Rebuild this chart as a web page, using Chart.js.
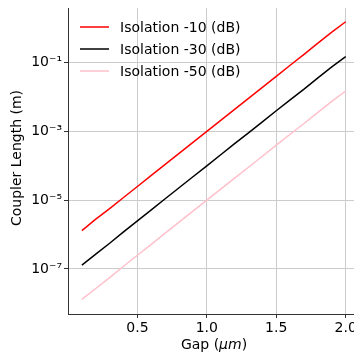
<!DOCTYPE html>
<html>
<head>
<meta charset="utf-8">
<script src="https://cdn.jsdelivr.net/npm/chart.js@4/dist/chart.umd.min.js"></script>
<style>
  html, body { margin: 0; padding: 0; background: #fff; overflow: hidden; }
</style>
</head>
<body>
<canvas id="chart" width="354" height="357"></canvas>
<script>
// gap values (um)
const gaps = [0.1, 0.2, 0.3, 0.4, 0.5, 0.6, 0.7, 0.8, 0.9, 1.0,
              1.1, 1.2, 1.3, 1.4, 1.5, 1.6, 1.7, 1.8, 1.9, 2.0];

// coupler length (m) per isolation level
const iso10 = [1.3e-6, 2.8e-6, 5.7e-6, 1.2e-5, 2.5e-5, 5.3e-5, 1.1e-4, 2.3e-4, 4.8e-4, 1.0e-3,
               2.1e-3, 4.4e-3, 9.2e-3, 1.9e-2, 4.0e-2, 8.4e-2, 0.175, 0.37, 0.77, 1.55];
const iso30 = [1.3e-7, 2.7e-7, 5.6e-7, 1.2e-6, 2.5e-6, 5.2e-6, 1.1e-5, 2.3e-5, 4.8e-5, 1.0e-4,
               2.1e-4, 4.4e-4, 9.1e-4, 1.9e-3, 4.0e-3, 8.3e-3, 1.7e-2, 3.6e-2, 7.5e-2, 0.15];
const iso50 = [1.3e-8, 2.7e-8, 5.6e-8, 1.2e-7, 2.5e-7, 5.2e-7, 1.1e-6, 2.3e-6, 4.8e-6, 1.0e-5,
               2.1e-5, 4.4e-5, 9.1e-5, 1.9e-4, 4.0e-4, 8.3e-4, 1.7e-3, 3.6e-3, 7.5e-3, 1.5e-2];

const seriesLabels = ['Isolation -10 (dB)', 'Isolation -30 (dB)', 'Isolation -50 (dB)'];
const xTicks = [0.5, 1.0, 1.5, 2.0];
const yTicks = [1e-7, 1e-5, 1e-3, 1e-1];
const yTickLabels = ['10\u207B\u2077', '10\u207B\u2075', '10\u207B\u00B3', '10\u207B\u00B9'];

const FONT = "'DejaVu Sans', sans-serif";

function toPoints(ys) {
    return gaps.map((g, i) => ({ x: g, y: ys[i] }));
}

// legend inside the axes + axis titles
const overlay = {
    id: 'overlay',
    afterDraw(chart) {
        const c = chart.ctx;
        c.save();
        c.font = '14px ' + FONT;
        c.textBaseline = 'middle';
        chart.data.datasets.forEach((ds, i) => {
            const y = 27 + i * 22;
            c.strokeStyle = ds.borderColor;
            c.lineWidth = 1.5;
            c.beginPath();
            c.moveTo(80, y);
            c.lineTo(109, y);
            c.stroke();
            c.fillStyle = '#000';
            c.textAlign = 'left';
            c.fillText(ds.label, 120, y + 1);
        });

        // y title
        c.save();
        c.translate(17, 158);
        c.rotate(-Math.PI / 2);
        c.textAlign = 'center';
        c.fillText('Coupler Length (m)', 0, 0);
        c.restore();

        // x title with italic unit
        const parts = [['Gap (', '14px ' + FONT], ['\u03BCm', 'italic 14px ' + FONT], [')', '14px ' + FONT]];
        let total = 0;
        parts.forEach(p => { c.font = p[1]; total += c.measureText(p[0]).width; });
        let x = 214 - total / 2;
        c.textAlign = 'left';
        parts.forEach(p => {
            c.font = p[1];
            c.fillText(p[0], x, 345);
            x += c.measureText(p[0]).width;
        });
        c.restore();
    }
};

new Chart(document.getElementById('chart').getContext('2d'), {
    type: 'line',
    data: {
        datasets: [
            { label: seriesLabels[0], data: toPoints(iso10), borderColor: '#ff0000' },
            { label: seriesLabels[1], data: toPoints(iso30), borderColor: '#000000' },
            { label: seriesLabels[2], data: toPoints(iso50), borderColor: '#ffc0cb' }
        ]
    },
    options: {
        responsive: false,
        animation: false,
        layout: { autoPadding: false, padding: { top: 8, left: 0, right: 0, bottom: 0 } },
        elements: {
            point: { radius: 0 },
            line: { borderWidth: 1.5, tension: 0 }
        },
        plugins: {
            legend: { display: false },
            tooltip: { enabled: false }
        },
        scales: {
            x: {
                type: 'linear',
                min: 0,
                max: 2.06,
                afterBuildTicks: s => { s.ticks = xTicks.map(v => ({ value: v })); },
                afterFit: s => { s.height = 43; s.paddingLeft = 0; s.paddingRight = 0; },
                ticks: {
                    color: '#000',
                    font: { family: FONT, size: 14 },
                    padding: 2,
                    maxRotation: 0,
                    callback: v => Number(v).toFixed(1)
                },
                grid: { color: '#cccccc', lineWidth: 1, tickLength: 4, tickColor: '#333' },
                border: { color: '#333', width: 1 }
            },
            y: {
                type: 'logarithmic',
                min: 4.9e-9,
                max: 3.89,
                afterBuildTicks: s => { s.ticks = yTicks.map(v => ({ value: v })); },
                afterFit: s => { s.width = 68; s.paddingTop = 0; s.paddingBottom = 0; },
                ticks: {
                    color: '#000',
                    font: { family: FONT, size: 14 },
                    padding: 2,
                    callback: v => {
                        const i = yTicks.findIndex(t => Math.abs(Math.log10(t) - Math.log10(v)) < 1e-6);
                        return i >= 0 ? yTickLabels[i] : '';
                    }
                },
                grid: { color: '#cccccc', lineWidth: 1, tickLength: 4, tickColor: '#333' },
                border: { color: '#333', width: 1 }
            }
        }
    },
    plugins: [overlay]
});
</script>
</body>
</html>
